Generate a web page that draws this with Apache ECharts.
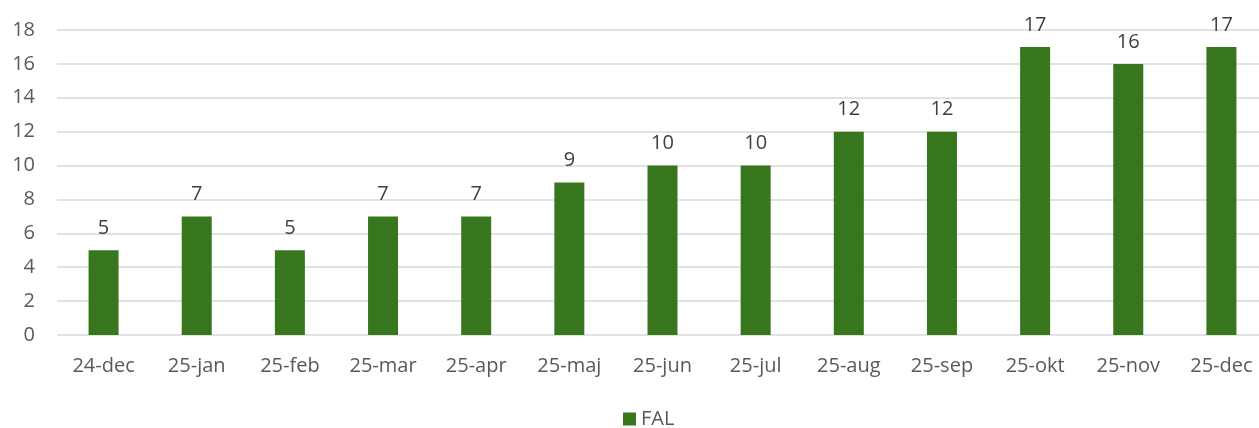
<!DOCTYPE html>
<html><head><meta charset="utf-8">
<script src="https://cdn.jsdelivr.net/npm/echarts@6/dist/echarts.min.js"></script>
<style>html,body{margin:0;padding:0;background:#fff}#c{width:1259px;height:428px}</style>
</head><body><div id="c"></div>
<script>
const categories = ['24-dec','25-jan','25-feb','25-mar','25-apr','25-maj','25-jun','25-jul','25-aug','25-sep','25-okt','25-nov','25-dec'];
const seriesName = 'FAL';
const values = [5,7,5,7,7,9,10,10,12,12,17,16,17];
const chart = echarts.init(document.getElementById('c'));
const font = 'Open Sans';
chart.setOption({
  animation:false,
  grid:{left:57,width:1211,top:30,height:305,containLabel:false,outerBoundsMode:'none'},
  legend:{bottom:-6,left:618,itemWidth:13,itemHeight:13,icon:'rect',itemGap:6,
    textStyle:{color:'#595959',fontSize:20,fontFamily:font}},
  xAxis:{type:'category',data:categories,axisLine:{show:false},axisTick:{show:false},
    axisLabel:{color:'#595959',fontSize:20,fontFamily:font,margin:21}},
  yAxis:{type:'value',min:0,max:18,interval:2,axisLine:{show:false},axisTick:{show:false},
    axisLabel:{color:'#595959',fontSize:20,fontFamily:font,margin:22,align:'right'},
    splitLine:{lineStyle:{color:'#d9d9d9',width:1.5}}},
  series:[{name:seriesName,type:'bar',data:values,barWidth:30,
    itemStyle:{color:'#38761d'},
    label:{show:true,position:'top',distance:12,color:'#404040',fontSize:20,fontFamily:font}}]
});
</script></body></html>
